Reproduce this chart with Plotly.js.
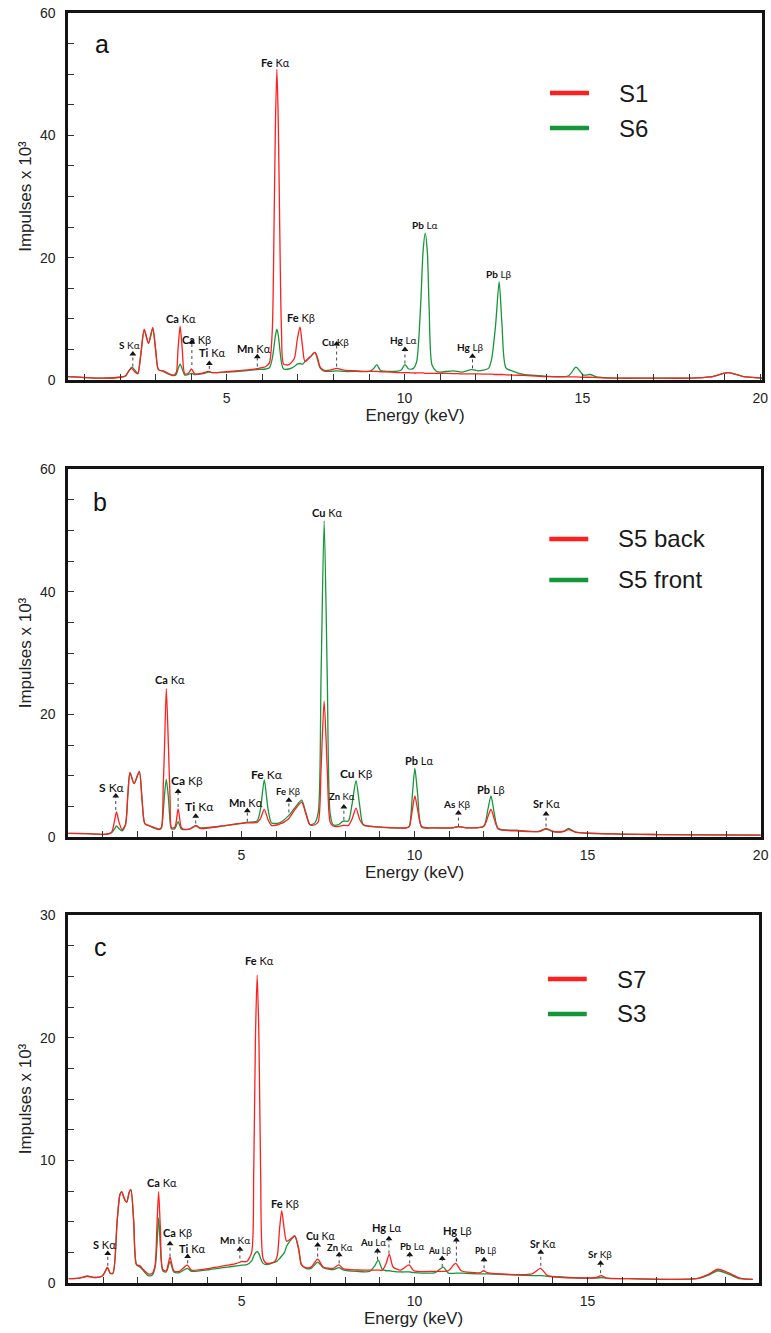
<!DOCTYPE html>
<html><head><meta charset="utf-8">
<script src="https://cdn.plot.ly/plotly-3.0.1.min.js"></script>
<style>html,body{margin:0;padding:0;background:#fff}</style>
</head><body>
<div id="chart" style="width:771px;height:1333px"></div>
<script>
// ---------- Panel a: S1 vs S6 ----------
const energyA = [0.54,1.0,1.5,2.0,2.15,2.25,2.33,2.42,2.50,2.58,2.68,2.80,2.92,3.00,3.08,3.22,3.35,3.50,3.58,3.63,3.69,3.75,3.82,3.92,4.01,4.10,4.30,4.50,4.60,5.00,5.50,5.85,6.10,6.20,6.28,6.33,6.37,6.41,6.45,6.49,6.54,6.60,6.75,6.90,6.98,7.06,7.13,7.20,7.35,7.48,7.56,7.62,7.72,7.90,8.09,8.30,8.66,9.00,9.12,9.22,9.32,9.60,9.90,10.01,10.12,10.25,10.34,10.45,10.52,10.58,10.64,10.69,10.77,10.90,11.00,11.37,11.60,11.89,12.07,12.36,12.45,12.56,12.66,12.74,12.85,13.06,13.34,13.80,14.00,14.61,14.82,15.03,15.22,15.40,16.00,17.00,18.00,18.60,19.10,19.50,20.05];
const seriesS1 = [0.55,0.4,0.3,0.45,0.7,1.5,1.9,1.3,1.0,4.0,8.3,6.0,8.6,5.0,1.7,1.5,1.1,0.8,1.2,5.0,8.8,5.0,1.0,1.1,1.8,1.0,1.1,1.4,1.2,1.35,1.6,1.85,2.2,2.8,8.0,25,42,50.8,42,25,8,2.6,2.5,3.5,6.5,8.7,5.5,3.0,3.8,4.5,3.5,2.2,1.6,1.6,1.9,1.6,1.5,1.4,1.4,1.4,1.35,1.3,1.2,1.2,1.2,1.15,1.15,1.15,1.15,1.1,1.1,1.1,1.1,1.1,1.1,1.05,1.0,1.0,1.0,0.95,0.95,0.9,0.9,0.9,0.85,0.8,0.75,0.6,0.55,0.5,0.5,0.45,0.45,0.4,0.3,0.3,0.3,0.5,1.2,0.6,0.3];
const seriesS6 = [0.55,0.4,0.3,0.45,0.6,1.5,2.1,1.6,1.1,4.0,8.1,6.0,8.4,5.0,1.7,1.4,1.0,0.7,0.9,1.8,2.6,1.8,0.8,0.9,1.1,0.9,1.0,1.3,1.2,1.3,1.5,1.7,1.8,2.0,3.5,5.5,7.3,8.3,7.3,5.2,2.8,1.8,1.8,2.2,2.6,2.7,2.6,3.0,3.8,4.5,3.2,2.0,1.5,1.4,1.5,1.4,1.4,1.4,1.8,2.5,1.6,1.4,1.6,2.5,1.8,1.9,3.0,12.0,21.0,24.0,21.0,12.0,2.5,1.4,1.3,1.5,1.3,1.7,1.5,1.9,3.5,9.0,16.1,9.0,2.0,1.4,0.9,0.7,0.6,0.7,2.1,0.8,0.9,0.5,0.3,0.3,0.3,0.5,1.2,0.6,0.3];
const labelElemA = ["Fe","Ca","Ca","S","Ti","Mn","Fe","Cu","Hg","Pb","Hg","Pb"];
const labelLineA = ["Kα","Kα","Kβ","Kα","Kα","Kα","Kβ","Kβ","Lα","Lα","Lβ","Lβ"];
const labelEA    = [6.36,3.71,4.16,2.26,4.58,5.78,7.09,8.07,9.97,10.58,11.86,12.66];
const labelYA    = [51.9,10.0,6.65,5.7,4.5,5.2,10.25,6.2,6.5,25.3,5.45,17.3];
const labelSizeA = [11,11,11,10,11,11,11,10,10,10,10,10];
const arrowEA    = [null,null,4.02,2.36,4.51,5.86,null,8.09,10.01,null,11.91,null];
const arrowTopA  = [null,null,6.2,4.25,2.7,3.8,null,5.9,5.0,null,3.9,null];
const arrowBotA  = [null,null,2.45,2.2,1.8,2.2,null,2.2,2.7,null,1.9,null];

// ---------- Panel b: S5 back vs S5 front ----------
const energyB = [0.0,0.5,1.1,1.25,1.33,1.39,1.46,1.55,1.65,1.72,1.78,1.90,2.05,2.13,2.21,2.35,2.50,2.62,2.69,2.74,2.78,2.83,2.89,2.94,2.98,3.08,3.17,3.26,3.32,3.50,3.69,3.80,4.47,5.15,5.45,5.55,5.66,5.77,5.87,6.10,6.35,6.55,6.74,6.85,6.98,7.12,7.22,7.30,7.39,7.48,7.56,7.65,7.80,7.94,8.09,8.20,8.31,8.42,8.52,8.81,9.77,9.85,9.94,10.01,10.09,10.21,10.6,11.1,11.27,11.5,12.0,12.12,12.21,12.30,12.42,12.95,13.6,13.8,14.0,14.3,14.45,14.65,15.75,17.0,20.0];
const seriesS5back = [0.6,0.55,0.45,0.8,2.5,4.1,2.5,1.2,2.0,7.0,10.5,8.7,10.7,6.0,2.2,1.8,1.5,1.3,1.6,8.0,15,24.2,15,6.0,1.5,1.6,4.6,1.6,1.3,1.3,1.8,1.4,1.8,2.3,2.4,3.0,4.5,2.8,1.9,2.1,2.9,4.5,5.7,4.0,2.0,2.0,2.5,11,22.2,11,2.5,1.8,1.7,1.9,1.9,3.0,4.7,2.8,2.0,1.7,1.5,1.7,4.5,6.7,4.5,1.6,1.5,1.5,1.7,1.5,1.7,3.3,4.5,3.0,1.3,1.0,0.9,1.4,0.9,0.9,1.2,0.8,0.5,0.4,0.3];
const seriesS5front = [0.6,0.55,0.45,0.7,1.3,1.8,1.4,1.0,2.0,7.0,10.5,8.7,10.7,6.0,2.2,1.8,1.4,1.2,1.5,4.0,7.0,9.4,6.5,2.5,1.3,1.4,2.5,1.3,1.2,1.3,1.9,1.5,1.8,2.4,2.6,4.5,9.3,4.5,2.3,2.3,3.4,4.8,6.0,4.2,2.0,2.3,4.0,26,51.5,26,4.0,2.0,2.0,2.6,2.6,5.5,9.2,5.0,2.0,1.7,1.5,1.8,7.0,11.2,7.0,1.7,1.5,1.5,1.7,1.5,1.8,4.5,6.7,4.0,1.4,1.1,0.9,1.3,0.9,0.9,1.4,0.8,0.5,0.4,0.3];
const labelElemB = ["Cu","Ca","S","Ca","Ti","Mn","Fe","Fe","Zn","Cu","Pb","As","Pb","Sr"];
const labelLineB = ["Kα","Kα","Kα","Kβ","Kα","Kα","Kα","Kβ","Kα","Kβ","Lα","Kβ","Lβ","Kα"];
const labelEB    = [7.48,2.95,1.27,3.42,3.80,5.13,5.73,6.35,7.90,8.33,10.14,11.24,12.21,13.82];
const labelYB    = [52.9,25.7,8.0,9.2,4.9,5.7,10.2,7.5,6.6,10.4,12.55,5.3,7.7,5.4];
const labelSizeB = [11,11,12,12,12,11,12,9.5,9.5,12,11,10,11,11];
const arrowEB    = [null,null,1.37,3.17,3.68,5.17,null,6.37,7.96,null,null,11.27,null,13.80];
const arrowTopB  = [null,null,6.7,7.4,3.4,4.3,null,6.0,4.9,null,null,3.9,null,3.75];
const arrowBotB  = [null,null,4.4,4.9,2.2,2.5,null,4.0,2.8,null,null,1.7,null,1.7];

// ---------- Panel c: S7 vs S3 ----------
const energyC = [0.0,0.3,0.54,0.75,0.96,1.05,1.12,1.20,1.28,1.40,1.48,1.53,1.62,1.68,1.75,1.80,1.88,1.96,2.06,2.16,2.30,2.42,2.50,2.55,2.60,2.65,2.72,2.82,2.93,3.04,3.20,3.43,3.55,4.08,4.60,4.86,5.00,5.15,5.29,5.35,5.40,5.45,5.50,5.55,5.62,5.72,5.96,6.03,6.10,6.16,6.24,6.30,6.42,6.54,6.65,6.73,6.85,7.01,7.20,7.36,7.65,7.81,7.95,8.32,8.70,8.85,8.95,9.07,9.18,9.27,9.38,9.60,9.84,9.98,10.60,10.83,10.98,11.19,11.35,11.90,12.00,12.10,13.40,13.64,13.85,15.25,15.40,15.55,16.20,18.15,18.50,18.77,19.10,19.40,19.78];
const seriesS7 = [0.35,0.4,0.55,0.45,0.55,0.9,1.28,0.8,0.8,5.0,7.2,7.45,6.8,6.6,7.4,7.6,5.0,1.5,1.4,1.1,0.75,0.8,1.5,4.5,7.45,4.5,1.1,1.0,2.1,1.0,0.95,1.45,1.05,1.2,1.45,1.6,1.75,1.75,2.5,9,20,25.1,20,9,2.0,1.6,1.75,2.2,4.5,5.9,4.2,3.4,3.6,3.85,2.8,1.5,1.25,1.3,1.95,1.3,1.2,1.47,1.15,1.06,1.05,1.05,1.05,1.05,1.6,2.36,1.3,1.05,1.47,1.0,0.95,0.95,1.0,1.6,1.0,0.85,1.0,0.85,0.75,1.2,0.6,0.45,0.6,0.4,0.35,0.35,0.7,1.12,0.8,0.4,0.3];
const seriesS3 = [0.35,0.4,0.55,0.45,0.55,0.9,1.28,0.8,0.8,5.0,7.2,7.45,6.8,6.6,7.4,7.6,5.0,1.5,1.3,1.0,0.6,0.65,1.3,3.0,5.3,3.0,1.0,0.9,1.75,0.9,0.85,1.2,0.95,1.1,1.3,1.4,1.45,1.5,1.8,2.2,2.45,2.55,2.4,2.0,1.6,1.5,1.7,1.8,2.0,2.2,2.5,3.0,3.5,3.8,2.7,1.5,1.2,1.2,1.7,1.25,1.1,1.25,1.05,0.95,0.95,1.4,1.87,1.1,1.0,1.0,0.95,0.9,0.9,0.85,0.85,1.3,0.8,0.8,0.8,0.75,0.75,0.75,0.6,0.6,0.55,0.4,0.45,0.4,0.35,0.35,0.65,1.0,0.7,0.35,0.3];
const labelElemC = ["Fe","Ca","S","Ca","Ti","Mn","Fe","Cu","Zn","Au","Hg","Pb","Au","Hg","Pb","Sr","Sr"];
const labelLineC = ["Kα","Kα","Kα","Kβ","Kα","Kα","Kβ","Kα","Kα","Lα","Lα","Lα","Lβ","Lβ","Lβ","Kα","Kβ"];
const labelEC    = [5.53,2.69,1.03,3.15,3.57,4.81,6.25,7.29,7.84,8.79,9.19,9.94,10.71,11.23,12.08,13.70,15.36];
const labelYC    = [26.3,8.2,3.1,4.1,2.8,3.5,6.5,3.8,2.9,3.3,4.5,3.0,2.6,4.3,2.6,3.2,2.35];
const labelSizeC = [11,11,11,11,11,10,11,10.5,9.5,9.5,11,9.5,8.5,11,8.5,10.5,10];
const arrowEC    = [null,null,1.13,2.93,3.44,4.95,null,7.20,7.82,8.93,9.26,9.86,10.80,11.21,12.01,13.65,15.38];
const arrowTopC  = [null,null,2.4,3.2,2.15,2.75,null,3.1,2.3,2.6,3.6,2.3,2.0,3.5,1.9,2.5,1.6];
const arrowBotC  = [null,null,1.4,2.15,1.6,2.0,null,2.15,1.6,1.9,2.4,1.6,1.3,1.75,1.2,1.4,0.8];

// ---------- tick label values ----------
const xTickLabels = [5,10,15,20];
const yTickLabelsAB = [0,20,40,60];
const yTickLabelsC = [0,10,20,30];

// ---------- styles ----------
const RED = '#ff1f1f', GREEN = '#16963a';
const AXIS_FONT = 'Liberation Sans, Arial, Helvetica, sans-serif';
const LABEL_FONT = 'Lato, "Open Sans", "Noto Sans", sans-serif';

const panels = [
  {xa:'x', ya:'y', letter:'a', energy:energyA, red:seriesS1, green:seriesS6, redName:'S1', greenName:'S6',
   elem:labelElemA, line:labelLineA, lx:labelEA, ly:labelYA, ls:labelSizeA, ax:arrowEA, at:arrowTopA, ab:arrowBotA,
   xdom:[0,1], ydom:[0.71102,1], xrange:[0.537,20.05], yrange:[0,60], ystep:5, ylabels:yTickLabelsAB,
   letterPos:[0.0486,0.9155], legY:[0.782,0.6866]},
  {xa:'x2', ya:'y2', letter:'b', energy:energyB, red:seriesS5back, green:seriesS5front, redName:'S5 back', greenName:'S5 front',
   elem:labelElemB, line:labelLineB, lx:labelEB, ly:labelYB, ls:labelSizeB, ax:arrowEB, at:arrowTopB, ab:arrowBotB,
   xdom:[0,0.99856], ydom:[0.35118,0.64094], xrange:[-0.01,20.01], yrange:[0,60], ystep:5, ylabels:yTickLabelsAB,
   letterPos:[0.0461,0.9111], legY:[0.8098,0.6984]},
  {xa:'x3', ya:'y3', letter:'c', energy:energyC, red:seriesS7, green:seriesS3, redName:'S7', greenName:'S3',
   elem:labelElemC, line:labelLineC, lx:labelEC, ly:labelYC, ls:labelSizeC, ax:arrowEC, at:arrowTopC, ab:arrowBotC,
   xdom:[0,0.99568], ydom:[0,0.28976], xrange:[-0.02,19.96], yrange:[0,30], ystep:2.5, ylabels:yTickLabelsC,
   letterPos:[0.0471,0.9139], legY:[0.826,0.731]}
];

const traces = [], annotations = [], shapes = [];
const layout = {
  width:771, height:1333,
  margin:{l:68, r:9, t:13, b:50, pad:0},
  paper_bgcolor:'#ffffff', plot_bgcolor:'#ffffff',
  showlegend:false, hovermode:false,
  font:{family:AXIS_FONT, size:14, color:'#222'}
};

panels.forEach((p, i) => {
  const n = i === 0 ? '' : String(i + 1);
  // spectra
  traces.push({x:p.energy, y:p.green, xaxis:p.xa, yaxis:p.ya, type:'scatter', mode:'lines', name:p.greenName,
    line:{color:GREEN, width:1.3, shape:'spline', smoothing:0.7}, hoverinfo:'skip'});
  traces.push({x:p.energy, y:p.red, xaxis:p.xa, yaxis:p.ya, type:'scatter', mode:'lines', name:p.redName,
    line:{color:RED, width:1.3, shape:'spline', smoothing:0.7}, hoverinfo:'skip'});
  // arrow heads with dotted stems
  const axs = [], ats = [];
  p.ax.forEach((e, k) => { if (e !== null) { axs.push(e); ats.push(p.at[k]);
    shapes.push({type:'line', xref:p.xa, yref:p.ya, x0:e, x1:e, y0:p.ab[k], y1:p.at[k],
      line:{color:'#444', width:1, dash:'dot'}}); } });
  traces.push({x:axs, y:ats, xaxis:p.xa, yaxis:p.ya, type:'scatter', mode:'markers',
    marker:{symbol:'triangle-up', size:6, color:'#111'}, hoverinfo:'skip', showlegend:false});
  // peak labels
  p.elem.forEach((el, k) => {
    annotations.push({xref:p.xa, yref:p.ya, x:p.lx[k], y:p.ly[k], showarrow:false,
      text:'<b>' + el + '</b> ' + p.line[k], xanchor:'center', yanchor:'middle',
      font:{family:LABEL_FONT, size:p.ls[k], color:'#111'}});
  });
  // panel letter
  annotations.push({xref:p.xa + ' domain', yref:p.ya + ' domain', x:p.letterPos[0], y:p.letterPos[1],
    showarrow:false, text:p.letter, xanchor:'center', yanchor:'middle',
    font:{family:AXIS_FONT, size:25, color:'#111'}});
  // legend
  const lx0 = (550 - 68) / 694, lx1 = (589 - 68) / 694, tx = (617 - 68) / 694;
  [[RED, p.redName, p.legY[0]], [GREEN, p.greenName, p.legY[1]]].forEach(([c, name, yy]) => {
    shapes.push({type:'line', xref:p.xa + ' domain', yref:p.ya + ' domain', x0:lx0, x1:lx1, y0:yy, y1:yy,
      line:{color:c, width:4.5}});
    annotations.push({xref:p.xa + ' domain', yref:p.ya + ' domain', x:tx, y:yy, showarrow:false,
      text:name, xanchor:'left', yanchor:'middle', font:{family:AXIS_FONT, size:24, color:'#1a1a1a'}});
  });
  // axes: labelled major ticks + unlabelled minor ticks
  const xMinor = [];
  for (let v = 0; v <= 20; v++) xMinor.push(v);
  const yMinor = [];
  const nSteps = Math.round(p.yrange[1] / p.ystep);
  for (let s = 0; s <= nSteps; s++) yMinor.push(s * p.ystep);
  const tickStyle = {ticks:'inside', ticklen:6, tickwidth:1, tickcolor:'#333'};
  layout['xaxis' + n] = Object.assign({domain:p.xdom, range:p.xrange, anchor:p.ya, showgrid:false, zeroline:false,
    showline:true, linecolor:'#141414', linewidth:2.6, mirror:true,
    tickmode:'array', tickvals:xTickLabels, ticktext:xTickLabels.map(String),
    minor:{tickmode:'array', tickvals:xMinor, ticks:'inside', ticklen:6, tickwidth:1, tickcolor:'#333', showgrid:false},
    tickfont:{family:AXIS_FONT, size:14, color:'#222'}, ticklabelstandoff:4,
    title:{text:'Energy (keV)', font:{family:AXIS_FONT, size:17, color:'#222'}, standoff:4}}, tickStyle);
  layout['yaxis' + n] = Object.assign({domain:p.ydom, range:p.yrange, anchor:p.xa, showgrid:false, zeroline:false,
    showline:true, linecolor:'#141414', linewidth:2.6, mirror:true,
    tickmode:'array', tickvals:p.ylabels, ticktext:p.ylabels.map(String),
    minor:{tickmode:'array', tickvals:yMinor, ticks:'inside', ticklen:6, tickwidth:1, tickcolor:'#333', showgrid:false},
    tickfont:{family:AXIS_FONT, size:14, color:'#222'}, ticklabelstandoff:7,
    title:{text:'Impulses x 10³', font:{family:AXIS_FONT, size:17, color:'#222'}, standoff:4}}, tickStyle);
});

layout.annotations = annotations;
layout.shapes = shapes;
Plotly.newPlot('chart', traces, layout, {displayModeBar:false, staticPlot:true});
</script>
</body></html>
